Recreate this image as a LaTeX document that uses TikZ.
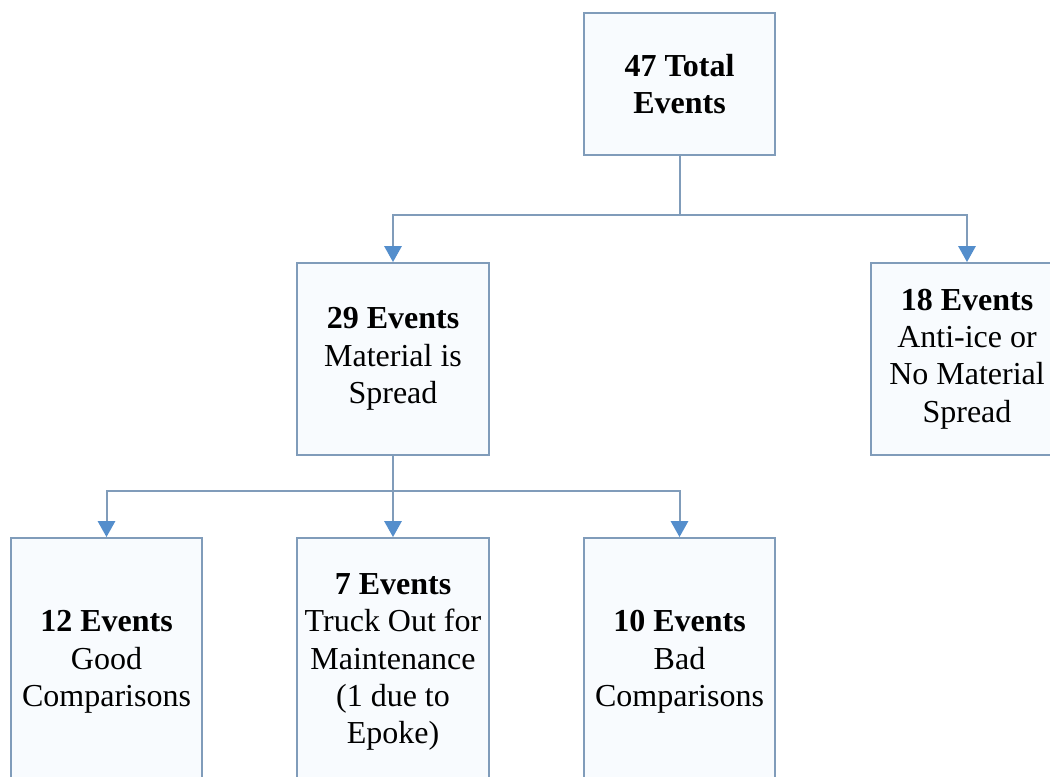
\documentclass[tikz,border=0pt]{standalone}
\usepackage{fontspec}
\setmainfont{Liberation Serif}
\usetikzlibrary{arrows.meta,positioning}
\definecolor{edgecol}{RGB}{128,156,186}
\definecolor{tipcol}{RGB}{84,142,204}
\definecolor{boxfill}{RGB}{248,251,254}

\begin{document}
\begin{tikzpicture}[
    x=0.75pt, y=-0.75pt,
    box/.style={draw=edgecol, line width=1.4pt, fill=boxfill, inner sep=0pt,
      minimum width=143.5pt, align=center,
      font=\fontsize{24}{28}\selectfont},
    link/.style={draw=edgecol, line width=1.5pt},
    >={Triangle[length=12pt,width=13pt,fill=tipcol,color=tipcol]}
  ]
    \useasboundingbox (0,0) rectangle (1050,777);
    \clip (0,0) rectangle (1050,777);
    \node[box, minimum height=106.5pt] (total) at (679.5,84) {\textbf{47 Total}\\\textbf{Events}};
    \node[box, minimum height=144pt] (spread) at (393,359) {\textbf{29 Events}\\Material is\\Spread};
    \node[box, minimum height=144pt] (noSpread) at (967,359) {\textbf{18 Events}\\Anti-ice or\\No Material\\Spread};
    \node[box, minimum height=186pt] (good) at (106.5,662) {\textbf{12 Events}\\Good\\Comparisons};
    \node[box, minimum height=186pt] (truck) at (393,662) {\textbf{7 Events}\\Truck Out for\\Maintenance\\(1 due to\\Epoke)};
    \node[box, minimum height=186pt] (bad) at (679.5,662) {\textbf{10 Events}\\Bad\\Comparisons};
    \coordinate (split1) at (679.5,215);
    \coordinate (split2) at (393,491);
    \draw[link] (total) -- (split1);
    \draw[link, ->] (split1) -| (spread);
    \draw[link, ->] (split1) -| (noSpread);
    \draw[link] (spread) -- (split2);
    \draw[link, ->] (split2) -| (good);
    \draw[link, ->] (split2) -- (truck);
    \draw[link, ->] (split2) -| (bad);
  \end{tikzpicture}
\end{document}
